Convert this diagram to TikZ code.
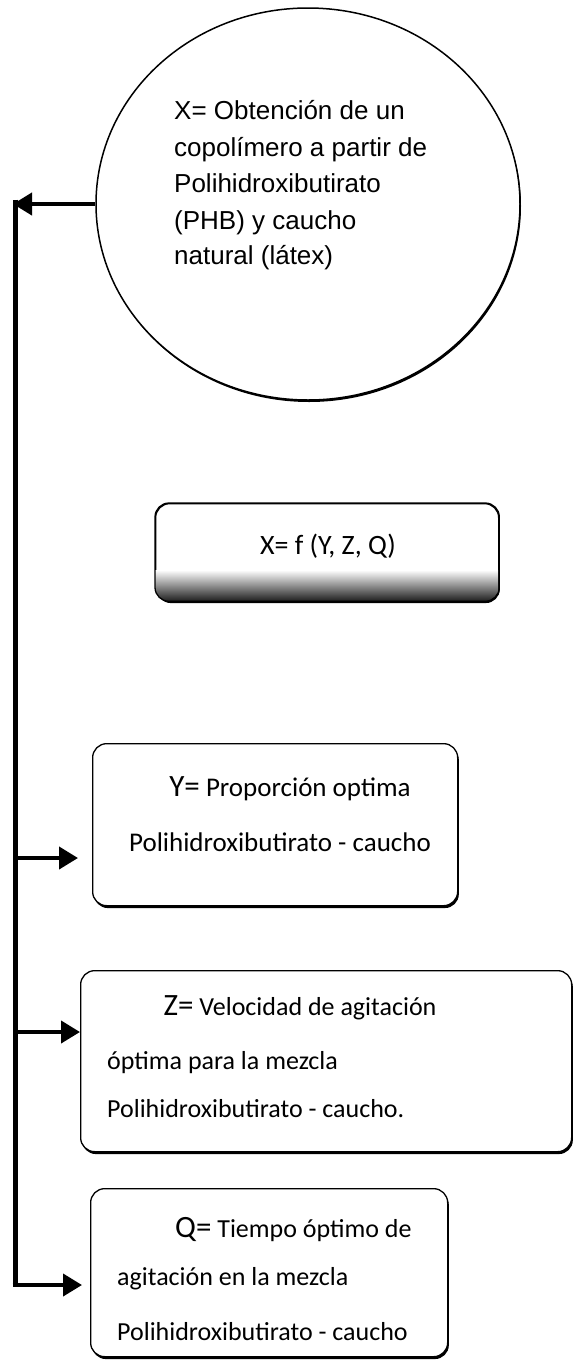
\documentclass[tikz,border=0pt]{standalone}
\usepackage{fontspec}
\setmainfont{Carlito}
\newfontfamily\arialf{Liberation Sans}
\usetikzlibrary{arrows.meta,shapes.geometric,shadows,calc}
\tikzset{
  boxshape/.style={draw, line width=1.3pt, rounded corners=14pt, fill=white, inner sep=0pt,
    drop shadow={shadow xshift=1.2pt, shadow yshift=-2.4pt, opacity=1, fill=black}},
  spine/.style={line width=5pt},
  arr/.style={line width=4pt, -{Triangle[length=19pt,width=22pt]}},
  ln/.style={inner sep=0pt, font=\fontsize{26}{30}\selectfont},
  lny/.style={inner sep=0pt, font=\fontsize{27}{30}\selectfont},
  eln/.style={inner sep=0pt, anchor=base west, font=\arialf\fontsize{26}{30}\selectfont},
}
\newcommand{\pre}[1]{{\fontsize{31}{31}\selectfont #1}}
\begin{document}
\begin{tikzpicture}[x=1pt,y=-1pt]
\useasboundingbox (0,0) rectangle (573,1361);
% ellipse
\node[ellipse, draw, line width=1.5pt, minimum width=424pt, minimum height=392pt, inner sep=0pt, fill=white,
  drop shadow={shadow xshift=1pt, shadow yshift=-2pt, opacity=1, fill=black}] (X) at (308,204) {};
\node[eln] (X1) at (174,119) {X= Obtención de un};
\node[eln] (X2) at (174,156) {copolímero a partir de};
\node[eln] (X3) at (174,192) {Polihidroxibutirato};
\node[eln] (X4) at (174,229) {(PHB) y caucho};
\node[eln] (X5) at (174,264) {natural (látex)};
% function box
\node[boxshape, anchor=north west, minimum width=343pt, minimum height=97pt] (F) at (155,503) {};
\begin{scope}
  \clip[rounded corners=14pt] (F.north west) rectangle (F.south east);
  \shade[top color=white, bottom color=black!85] (155,570) rectangle (498,600);
\end{scope}
\draw[line width=1.3pt, rounded corners=14pt] (F.north west) rectangle (F.south east);
\node[ln, anchor=base] (Ft) at (328,554) {\fontsize{28}{30}\selectfont X= f (Y, Z, Q)};
% Y box
\node[boxshape, anchor=north west, minimum width=365pt, minimum height=162pt] (Y) at (92,743) {};
\node[lny, anchor=base] (Y1) at (290,796) {\pre{Y=} Proporción optima};
\node[lny, anchor=base] (Y2) at (280,851) {Polihidroxibutirato - caucho};
% Z box
\node[boxshape, anchor=north west, minimum width=491pt, minimum height=181pt] (Z) at (80,970) {};
\node[ln, anchor=base] (Z1) at (300,1015) {\pre{Z=} Velocidad de agitación};
\node[ln, anchor=base west] (Z2) at (107,1069) {óptima para la mezcla};
\node[ln, anchor=base west] (Z3) at (107,1117) {Polihidroxibutirato - caucho.};
% Q box
\node[boxshape, anchor=north west, minimum width=357pt, minimum height=168pt] (Q) at (90,1188) {};
\node[ln, anchor=base west] (Q1) at (175,1237) {\pre{Q=} Tiempo óptimo de};
\node[ln, anchor=base west] (Q2) at (117,1285) {agitación en la mezcla};
\node[ln, anchor=base west] (Q3) at (117,1340) {Polihidroxibutirato - caucho};
% connectors
\coordinate (top) at (15,199.5);
\coordinate (bot) at (15,1287);
\coordinate (ay) at (15,858);
\coordinate (az) at (15,1032);
\coordinate (aq) at (12.5,1285);
\draw[arr] (X.west) -- (X.west -| 13,0);
\draw[spine] (top) -- (bot);
\draw[arr, shorten >=14pt] (ay) -- (ay -| Y.west);
\draw[arr] (az) -- (az -| Z.west);
\draw[arr, shorten >=8pt] (aq) -- (aq -| Q.west);
\end{tikzpicture}
\end{document}
